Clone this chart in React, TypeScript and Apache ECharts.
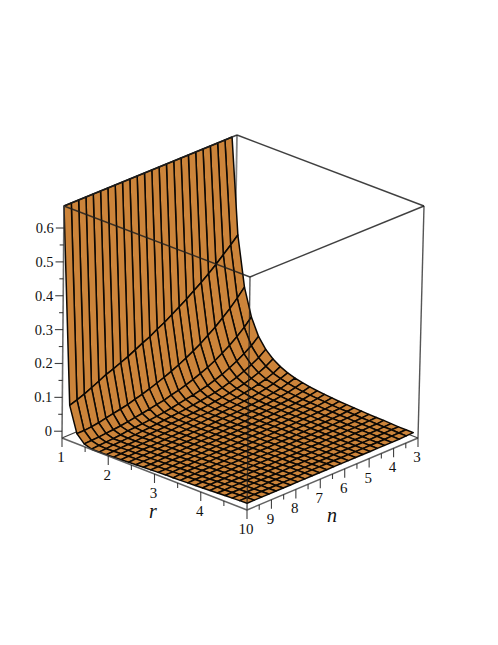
import React, { useEffect, useRef } from "react";
import * as echarts from "echarts";

const rGrid = [1, 1.16, 1.32, 1.48, 1.64, 1.8, 1.96, 2.12, 2.28, 2.44, 2.6, 2.76, 2.92, 3.08, 3.24, 3.4, 3.56, 3.72, 3.88, 4.04, 4.2, 4.36, 4.52, 4.68, 4.84, 5];
const nGrid = [10, 9.704, 9.408, 9.112, 8.816, 8.52, 8.224, 7.928, 7.632, 7.336, 7.04, 6.744, 6.448, 6.152, 5.856, 5.56, 5.264, 4.968, 4.672, 4.376, 4.08, 3.784, 3.488, 3.2];
// one row per n in nGrid, one column per r in rGrid
const zRows = [
  [.665,.085,.010,-.012,-.019,-.019,-.018,-.017,-.016,-.015,-.014,-.013,-.012,-.011,-.010,-.010,-.009,-.008,-.007,-.006,-.005,-.004,-.003,-.002,-.001,0],
  [.665,.092,.010,-.011,-.017,-.018,-.017,-.016,-.015,-.014,-.013,-.013,-.012,-.011,-.010,-.009,-.008,-.007,-.006,-.005,-.004,-.004,-.003,-.002,-.001,0],
  [.665,.100,.012,-.010,-.016,-.016,-.016,-.015,-.014,-.013,-.013,-.012,-.011,-.010,-.009,-.008,-.008,-.007,-.006,-.005,-.004,-.003,-.003,-.002,-.001,0],
  [.665,.110,.015,-.008,-.015,-.015,-.015,-.014,-.013,-.013,-.012,-.011,-.010,-.009,-.009,-.008,-.007,-.006,-.006,-.005,-.004,-.003,-.002,-.002,-.001,0],
  [.665,.120,.020,-.006,-.013,-.014,-.014,-.013,-.013,-.012,-.011,-.010,-.010,-.009,-.008,-.007,-.007,-.006,-.005,-.004,-.004,-.003,-.002,-.001,-.001,0],
  [.665,.131,.024,-.004,-.010,-.013,-.013,-.012,-.012,-.011,-.010,-.010,-.009,-.008,-.007,-.007,-.006,-.005,-.005,-.004,-.003,-.003,-.002,-.001,-.001,0],
  [.665,.139,.028,-.001,-.009,-.011,-.011,-.011,-.011,-.010,-.009,-.009,-.008,-.008,-.007,-.006,-.006,-.005,-.004,-.004,-.003,-.003,-.002,-.001,-.001,0],
  [.665,.148,.033,.003,-.007,-.010,-.010,-.010,-.010,-.009,-.009,-.008,-.007,-.007,-.006,-.006,-.005,-.005,-.004,-.003,-.003,-.002,-.002,-.001,-.001,0],
  [.665,.157,.039,.006,-.005,-.008,-.009,-.009,-.009,-.008,-.008,-.007,-.007,-.006,-.006,-.005,-.005,-.004,-.004,-.003,-.003,-.002,-.002,-.001,-.001,0],
  [.665,.168,.045,.010,-.003,-.006,-.007,-.007,-.008,-.007,-.007,-.007,-.006,-.006,-.005,-.005,-.004,-.004,-.003,-.003,-.002,-.002,-.001,-.001,0,0],
  [.665,.179,.052,.014,0,-.004,-.006,-.006,-.007,-.007,-.006,-.006,-.005,-.005,-.005,-.004,-.004,-.003,-.003,-.002,-.002,-.002,-.001,-.001,0,0],
  [.665,.189,.060,.018,.003,-.002,-.004,-.005,-.006,-.006,-.005,-.005,-.005,-.004,-.004,-.004,-.003,-.003,-.003,-.002,-.002,-.001,-.001,-.001,0,0],
  [.665,.202,.068,.024,.007,0,-.003,-.003,-.004,-.004,-.005,-.004,-.004,-.004,-.003,-.003,-.003,-.002,-.002,-.002,-.002,-.001,-.001,-.001,0,0],
  [.665,.213,.077,.029,.011,.003,-.001,-.003,-.003,-.003,-.004,-.004,-.003,-.003,-.003,-.003,-.002,-.002,-.002,-.002,-.001,-.001,-.001,-.001,0,0],
  [.665,.227,.087,.036,.015,.006,.001,-.001,-.001,-.002,-.002,-.003,-.003,-.002,-.002,-.002,-.002,-.002,-.001,-.001,-.001,-.001,-.001,0,0,0],
  [.665,.241,.098,.043,.020,.009,.004,.001,0,-.001,-.001,-.001,-.002,-.002,-.002,-.001,-.001,-.001,-.001,-.001,-.001,-.001,0,0,0,0],
  [.665,.255,.110,.052,.025,.013,.007,.004,.002,.001,0,0,-.001,-.001,-.001,-.001,-.001,-.001,-.001,0,0,0,0,0,0,0],
  [.665,.271,.123,.061,.032,.018,.011,.006,.004,.002,.001,.001,0,0,0,0,0,0,0,0,0,0,0,0,0,0],
  [.665,.287,.138,.072,.040,.024,.015,.010,.006,.004,.003,.002,.002,.001,.001,.001,.001,.001,0,0,0,0,0,0,0,0],
  [.665,.304,.154,.085,.050,.031,.020,.014,.010,.007,.005,.004,.003,.003,.002,.002,.001,.001,.001,.001,.001,.001,0,0,0,0],
  [.665,.322,.172,.099,.061,.040,.027,.019,.014,.010,.008,.006,.005,.004,.004,.003,.002,.002,.002,.001,.001,.001,.001,.001,0,0],
  [.665,.342,.191,.116,.074,.050,.035,.025,.019,.014,.011,.009,.007,.006,.005,.004,.004,.003,.003,.002,.002,.002,.001,.001,.001,0],
  [.665,.362,.213,.135,.089,.062,.045,.033,.026,.020,.016,.013,.011,.009,.008,.006,.005,.005,.004,.003,.003,.002,.002,.002,.001,.001],
  [.665,.383,.237,.157,.108,.078,.058,.044,.034,.027,.022,.018,.015,.013,.011,.009,.008,.007,.006,.005,.004,.004,.003,.002,.002,.002],
];
const rMajorTicks = [1, 2, 3, 4];
const rMinorTicks = [1.5, 2.5, 3.5, 4.5];
const nMajorTicks = [10, 9, 8, 7, 6, 5, 4, 3];
const nMinorTicks = [9.5, 8.5, 7.5, 6.5, 5.5, 4.5, 3.5];
const zMajorTicks = [0, 0.1, 0.2, 0.3, 0.4, 0.5, 0.6];
const zMinorTicks = [0.05, 0.15, 0.25, 0.35, 0.45, 0.55];
const rRange = [1, 5];
const nRange = [10, 3];
const zRange = [-0.02, 0.665];

type Pt = [number, number];
// screen position of the plot box's corners: L (r min, n 10), F (r max, n 10), R (r max, n 3), B (r min, n 3)
const floorCorners: Record<string, Pt> = { L: [62, 438], F: [247, 510], R: [418, 438], B: [233, 366] };
const roofCorners: Record<string, Pt> = { L: [64, 206], F: [250, 277], R: [424, 206], B: [237, 135] };

function planePoint(c: Record<string, Pt>, u: number, v: number): Pt {
  const at = (k: 0 | 1) =>
    c.L[k] * (1 - u) * (1 - v) + c.F[k] * u * (1 - v) + c.R[k] * u * v + c.B[k] * (1 - u) * v;
  return [at(0), at(1)];
}
function project(r: number, n: number, z: number): Pt {
  const u = (r - rRange[0]) / (rRange[1] - rRange[0]);
  const v = (n - nRange[0]) / (nRange[1] - nRange[0]);
  const t = (z - zRange[0]) / (zRange[1] - zRange[0]);
  const a = planePoint(floorCorners, u, v);
  const b = planePoint(roofCorners, u, v);
  return [a[0] + (b[0] - a[0]) * t, a[1] + (b[1] - a[1]) * t];
}

const SURFACE = "#cc843a";
const zLo = zRange[0];
const zHi = zRange[1];
const rLo = rRange[0];
const rHi = rRange[1];
const nFar = nRange[1];
const nNear = nRange[0];

interface Seg { a: Pt; b: Pt; color: string; width: number }
const frameColor = "rgba(30,30,30,0.85)";
const backSegs: Seg[] = [
  { a: project(rLo, nFar, zLo), b: project(rLo, nFar, zHi), color: "rgba(90,90,90,0.75)", width: 1.8 },
  { a: project(rLo, nNear, zLo), b: project(rLo, nFar, zLo), color: frameColor, width: 1.2 },
  { a: project(rHi, nFar, zLo), b: project(rLo, nFar, zLo), color: frameColor, width: 1.2 },
];
const frontSegs: Seg[] = [
  { a: project(rLo, nNear, zHi), b: project(rHi, nNear, zHi), color: frameColor, width: 1.4 },
  { a: project(rHi, nNear, zHi), b: project(rHi, nFar, zHi), color: frameColor, width: 1.4 },
  { a: project(rHi, nFar, zHi), b: project(rLo, nFar, zHi), color: frameColor, width: 1.4 },
  { a: project(rLo, nFar, zHi), b: project(rLo, nNear, zHi), color: frameColor, width: 1.4 },
  { a: project(rHi, nNear, zHi), b: project(rHi, nNear, zLo), color: "rgba(30,30,30,0.8)", width: 1.3 },
  { a: project(rHi, nFar, zHi), b: project(rHi, nFar, zLo), color: "rgba(30,30,30,0.75)", width: 1.4 },
  { a: project(rLo, nNear, zHi), b: project(rLo, nNear, zLo), color: "rgba(70,70,70,0.8)", width: 1.6 },
  { a: project(rLo, nNear, zLo), b: project(rHi, nNear, zLo), color: "rgba(70,70,70,0.85)", width: 1.5 },
  { a: project(rHi, nNear, zLo), b: project(rHi, nFar, zLo), color: "rgba(70,70,70,0.85)", width: 1.5 },
];
const tickColor = "rgba(30,30,30,0.85)";
const down = (p: Pt, len: number): Seg => ({ a: p, b: [p[0], p[1] + len], color: tickColor, width: 1.1 });
const left = (p: Pt, len: number): Seg => ({ a: p, b: [p[0] - len, p[1]], color: tickColor, width: 1.1 });
rMajorTicks.forEach((r) => frontSegs.push(down(project(r, nNear, zLo), 9)));
rMinorTicks.forEach((r) => frontSegs.push(down(project(r, nNear, zLo), 5)));
nMajorTicks.forEach((n) => frontSegs.push(down(project(rHi, n, zLo), 9)));
nMinorTicks.forEach((n) => frontSegs.push(down(project(rHi, n, zLo), 5)));
zMajorTicks.forEach((z) => frontSegs.push(left(project(rLo, nNear, z), 8)));
zMinorTicks.forEach((z) => frontSegs.push(left(project(rLo, nNear, z), 4)));

interface Lab { text: string; p: Pt; align: string; italic?: boolean; size: number }
const labels: Lab[] = [];
const below = (p: Pt): Pt => [p[0] - 1, p[1] + 19];
rMajorTicks.forEach((r) => labels.push({ text: String(r), p: below(project(r, nNear, zLo)), align: "center", size: 15 }));
nMajorTicks.forEach((n) => labels.push({ text: String(n), p: below(project(rHi, n, zLo)), align: "center", size: 15 }));
zMajorTicks.forEach((z) => {
  const p = project(rLo, nNear, z);
  labels.push({ text: String(z), p: [p[0] - 10, p[1]], align: "right", size: 14.5 });
});
labels.push({ text: "r", p: [153, 511], align: "center", italic: true, size: 20 });
labels.push({ text: "n", p: [332, 515], align: "center", italic: true, size: 20 });

// painter's order: far corner of the floor first
const quads: number[][] = [];
for (let j = 0; j < rGrid.length - 1; j++) {
  for (let i = nGrid.length - 2; i >= 0; i--) quads.push([i, j]);
}

function segSeries(segs: Seg[], z: number) {
  return {
    type: "custom",
    coordinateSystem: "none",
    silent: true,
    z,
    data: segs.map((_, k) => [k]),
    renderItem: (params: any) => {
      const s = segs[params.dataIndex];
      return {
        type: "line",
        shape: { x1: s.a[0], y1: s.a[1], x2: s.b[0], y2: s.b[1] },
        style: { stroke: s.color, lineWidth: s.width, fill: "none" },
      };
    },
  };
}

export default function App() {
  const ref = useRef<HTMLDivElement>(null);
  useEffect(() => {
    const chart = echarts.init(ref.current!, undefined, { renderer: "svg" });
    chart.setOption({
      animation: false,
      backgroundColor: "#ffffff",
      series: [
        segSeries(backSegs, 1),
        {
          type: "custom",
          coordinateSystem: "none",
          silent: true,
          z: 2,
          data: quads,
          renderItem: (_: any, api: any) => {
            const i = api.value(0);
            const j = api.value(1);
            const pts = [
              project(rGrid[j], nGrid[i], zRows[i][j]),
              project(rGrid[j + 1], nGrid[i], zRows[i][j + 1]),
              project(rGrid[j + 1], nGrid[i + 1], zRows[i + 1][j + 1]),
              project(rGrid[j], nGrid[i + 1], zRows[i + 1][j]),
            ];
            return {
              type: "polygon",
              shape: { points: pts },
              style: { fill: SURFACE, stroke: "#0c0804", lineWidth: 1.5, lineJoin: "round" },
            };
          },
        },
        segSeries(frontSegs, 3),
        {
          type: "custom",
          coordinateSystem: "none",
          silent: true,
          z: 4,
          data: labels.map((_, k) => [k]),
          renderItem: (params: any) => {
            const l = labels[params.dataIndex];
            return {
              type: "text",
              x: l.p[0],
              y: l.p[1],
              style: {
                text: l.text,
                fill: "#111111",
                font: `${l.italic ? "italic " : ""}${l.size}px "Liberation Serif"`,
                align: l.align,
                verticalAlign: "middle",
              },
            };
          },
        },
      ],
    });
    return () => chart.dispose();
  }, []);
  return <div ref={ref} style={{ position: "absolute", left: 0, top: 0, width: 498, height: 645 }} />;
}
